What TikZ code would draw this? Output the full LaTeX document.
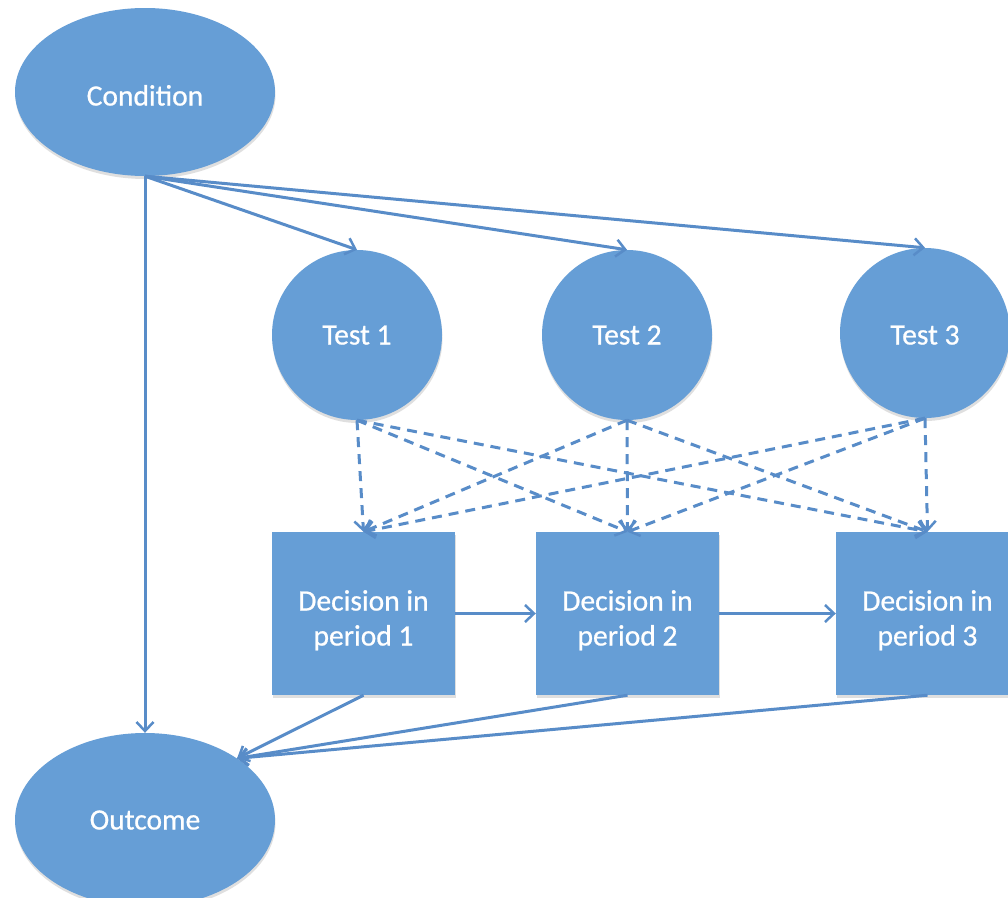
\documentclass[tikz,border=0pt]{standalone}
\usepackage{fontspec}
\setmainfont{Carlito}
\newfontfamily\diagfont{Carlito}[FakeBold=0.7]
\usetikzlibrary{shapes.geometric,arrows.meta,shadows}
\definecolor{shapefill}{RGB}{102,158,214}
\definecolor{linecol}{RGB}{88,140,200}
% text whose baseline sits #1 below the node centre
\newcommand{\oneline}[2]{\raisebox{-#1}[0pt][0pt]{#2}}
% two lines, first baseline #1 below the node centre
\newcommand{\twolines}[3]{\raisebox{-#1}[0pt][0pt]{\begin{tabular}[t]{@{}c@{}}#2\\#3\end{tabular}}}
\begin{document}
\begin{tikzpicture}[x=1pt,y=-1pt,
  shp/.style={fill=shapefill,draw=none,text=white,inner sep=0pt,
    font=\diagfont\fontsize{29.5}{35}\selectfont,
    drop shadow={opacity=0.25,shadow xshift=0.5pt,shadow yshift=-3pt}},
  ell/.style={shp,ellipse,minimum width=260pt,minimum height=168pt},
  circ/.style={shp,circle,minimum size=170pt},
  box/.style={shp,rectangle,minimum width=183pt,minimum height=163pt},
  conn/.style={draw=linecol,line width=3pt,-{Straight Barb[length=9pt,width=17pt,line width=2.5pt]}},
  dconn/.style={conn,dash pattern=on 10pt off 7pt}]
\useasboundingbox (0,0) rectangle (1008,897);
\clip (0,0) rectangle (1008,897);
\fill[white] (0,0) rectangle (1008,897);
\node[ell] (c) at (145,92) {\oneline{13.5pt}{Condition}};
\node[ell,minimum height=174pt] (o) at (145,820) {\oneline{9.5pt}{Outcome}};
\node[circ] (t1) at (357,335) {\oneline{9.5pt}{Test 1}};
\node[circ] (t2) at (627,335) {\oneline{9.5pt}{Test 2}};
\node[circ] (t3) at (925,333) {\oneline{11.5pt}{Test 3}};
\node[box] (d1) at (363.5,613.5) {\twolines{-3pt}{Decision in}{period 1}};
\node[box] (d2) at (627.5,613.5) {\twolines{-3pt}{Decision in}{period 2}};
\node[box] (d3) at (927.5,613.5) {\twolines{-3pt}{Decision in}{period 3}};
% condition arrows
\draw[conn] (c.south) -- (o.north);
\draw[conn] (c.south) -- (t1.north);
\draw[conn] (c.south) -- (t2.north);
\draw[conn] (c.south) -- (t3.north);
% dashed test -> decision
\foreach \t in {t1,t2,t3}{
  \foreach \d in {d1,d2,d3}{
    \draw[dconn] (\t.south) -- (\d.north);
  }
}
% decision chain
\draw[conn] (d1.east) -- (d2.west);
\draw[conn] (d2.east) -- (d3.west);
% decisions -> outcome
\draw[conn] (d1.south) -- (o.north east);
\draw[conn] (d2.south) -- (o.north east);
\draw[conn] (d3.south) -- (o.north east);
\end{tikzpicture}
\end{document}
